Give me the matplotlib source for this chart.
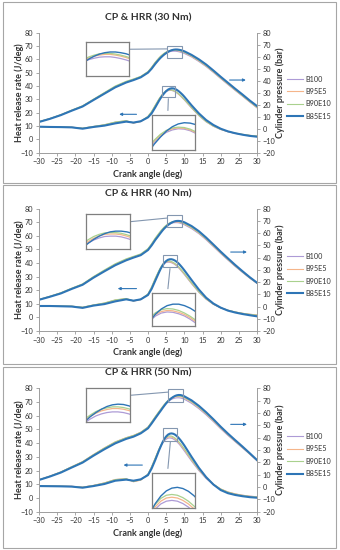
import matplotlib
matplotlib.use("Agg")
import matplotlib.pyplot as plt
from matplotlib.patches import Rectangle, ConnectionPatch

# Crank angle grid (deg)
crank = [-30, -27, -24, -21, -18, -15, -12, -9, -6, -4, -2, 0, 1, 2, 3, 3.5, 4, 4.5, 5, 5.5,
         6, 6.5, 7, 7.5, 8, 8.5, 9, 9.5, 10, 12, 14, 16, 18, 20, 22, 24, 26, 28, 30]

fuels = ["B100", "B95E5", "B90E10", "B85E15"]

# ---- 30 Nm ----
cp30_b100 = [5.8, 8.4, 11.5, 15.2, 18.8, 24.2, 29.6, 35.0, 39.0, 41.0, 43.2, 47.2, 50.8, 55.0, 58.5, 60.0, 61.2, 62.3, 63.2, 63.8,
             64.2, 64.5, 64.6, 64.6, 64.4, 64.1, 63.7, 63.2, 62.7, 59.8, 56.0, 51.8, 46.9, 41.8, 36.8, 31.9, 27.1, 22.2, 17.4]
cp30_b95e5 = [5.8, 8.4, 11.6, 15.3, 18.9, 24.3, 29.8, 35.2, 39.2, 41.2, 43.4, 47.4, 51.0, 55.2, 58.7, 60.3, 61.6, 62.7, 63.6, 64.3,
              64.8, 65.1, 65.3, 65.3, 65.1, 64.8, 64.4, 63.9, 63.4, 60.3, 56.5, 52.2, 47.3, 42.1, 37.1, 32.1, 27.3, 22.4, 17.6]
cp30_b90e10 = [5.9, 8.5, 11.7, 15.5, 19.1, 24.6, 30.1, 35.6, 39.5, 41.4, 43.6, 47.6, 51.2, 55.4, 58.9, 60.5, 61.8, 63.0, 63.9, 64.6,
               65.1, 65.5, 65.6, 65.6, 65.4, 65.1, 64.7, 64.2, 63.7, 60.7, 56.9, 52.6, 47.7, 42.5, 37.5, 32.5, 27.6, 22.7, 17.9]
cp30_b85e15 = [5.6, 8.2, 11.3, 15.0, 18.5, 23.9, 29.2, 34.5, 38.5, 40.5, 42.8, 46.7, 50.0, 54.0, 57.6, 59.2, 60.6, 61.9, 63.0, 64.0,
               64.8, 65.4, 65.8, 66.0, 66.0, 65.8, 65.5, 65.0, 64.5, 61.5, 57.8, 53.5, 48.5, 43.3, 38.3, 33.3, 28.5, 23.5, 18.9]
hrr30_b100 = [9.6, 9.4, 9.3, 9.1, 8.3, 9.6, 10.8, 12.8, 13.8, 12.3, 13.4, 17.0, 20.5, 25.2, 29.8, 31.8, 33.5, 34.9, 35.9, 36.5,
              36.8, 36.7, 36.3, 35.6, 34.7, 33.6, 32.4, 31.0, 29.6, 23.5, 17.8, 13.2, 9.8, 7.4, 5.7, 4.5, 3.6, 2.9, 2.4]
hrr30_b95e5 = [9.6, 9.4, 9.3, 9.1, 8.3, 9.6, 10.9, 12.9, 13.9, 12.2, 13.3, 17.1, 20.7, 25.4, 30.0, 32.0, 33.8, 35.2, 36.2, 36.8,
               37.0, 36.9, 36.5, 35.8, 34.9, 33.8, 32.6, 31.2, 29.8, 23.7, 18.0, 13.3, 9.9, 7.5, 5.8, 4.6, 3.7, 3.0, 2.5]
hrr30_b90e10 = [9.6, 9.4, 9.3, 9.1, 8.4, 9.7, 11.0, 13.0, 14.0, 12.4, 13.5, 17.3, 20.9, 25.6, 30.2, 32.2, 34.0, 35.4, 36.4, 37.0,
                37.2, 37.1, 36.7, 36.0, 35.1, 34.0, 32.8, 31.4, 30.0, 23.9, 18.1, 13.4, 10.0, 7.6, 5.9, 4.7, 3.8, 3.0, 2.5]
hrr30_b85e15 = [9.5, 9.3, 9.2, 9.0, 8.0, 9.3, 10.3, 12.0, 13.3, 12.6, 13.6, 16.5, 19.5, 24.0, 28.8, 31.0, 33.0, 34.7, 36.2, 37.3,
                38.0, 38.3, 38.2, 37.8, 37.0, 36.0, 34.8, 33.5, 32.0, 25.5, 19.5, 14.5, 10.8, 8.0, 6.0, 4.6, 3.5, 2.6, 2.0]

# ---- 40 Nm ----
cp40_b100 = [5.7, 8.2, 11.0, 14.7, 18.1, 24.0, 29.3, 34.4, 38.4, 40.5, 42.5, 46.8, 50.8, 55.3, 59.2, 61.1, 62.8, 64.3, 65.6, 66.7,
             67.5, 68.1, 68.5, 68.6, 68.6, 68.4, 68.0, 67.5, 66.9, 63.7, 59.6, 54.6, 49.0, 43.4, 38.0, 32.8, 27.9, 23.2, 18.9]
cp40_b95e5 = [5.7, 8.3, 11.1, 14.8, 18.3, 24.2, 29.5, 34.6, 38.6, 40.7, 42.7, 47.0, 51.0, 55.5, 59.5, 61.4, 63.1, 64.7, 66.0, 67.1,
              68.0, 68.7, 69.1, 69.2, 69.2, 69.0, 68.6, 68.1, 67.5, 64.3, 60.1, 55.1, 49.5, 43.8, 38.4, 33.1, 28.2, 23.4, 19.1]
cp40_b90e10 = [5.8, 8.4, 11.3, 15.0, 18.5, 24.5, 29.9, 35.0, 39.0, 41.0, 43.0, 47.4, 51.4, 56.0, 60.0, 61.9, 63.6, 65.2, 66.5, 67.6,
               68.5, 69.1, 69.5, 69.6, 69.6, 69.4, 69.0, 68.5, 67.9, 64.7, 60.5, 55.5, 49.9, 44.2, 38.7, 33.4, 28.4, 23.6, 19.2]
cp40_b85e15 = [5.5, 8.0, 10.7, 14.4, 17.8, 23.6, 28.8, 33.8, 37.8, 40.0, 42.0, 46.2, 50.0, 54.4, 58.3, 60.3, 62.2, 63.9, 65.3, 66.6,
               67.7, 68.6, 69.3, 69.8, 70.0, 70.0, 69.8, 69.4, 68.9, 65.8, 61.6, 56.4, 50.7, 44.9, 39.4, 34.0, 28.9, 24.0, 19.5]
hrr40_b100 = [8.5, 8.5, 8.3, 8.2, 7.4, 9.0, 10.4, 12.6, 13.7, 12.1, 13.2, 17.0, 22.0, 28.2, 33.8, 36.2, 38.2, 39.6, 40.4, 40.7,
              40.6, 40.2, 39.6, 38.7, 37.6, 36.3, 34.8, 33.2, 31.6, 24.8, 18.5, 13.4, 9.6, 7.0, 5.2, 3.9, 3.0, 2.3, 1.8]
hrr40_b95e5 = [8.5, 8.5, 8.3, 8.2, 7.4, 9.1, 10.5, 12.8, 13.8, 12.0, 13.1, 17.1, 22.2, 28.4, 34.0, 36.5, 38.5, 40.0, 40.8, 41.1,
               41.0, 40.6, 40.0, 39.1, 38.0, 36.7, 35.2, 33.6, 32.0, 25.1, 18.7, 13.5, 9.7, 7.1, 5.3, 4.0, 3.0, 2.3, 1.8]
hrr40_b90e10 = [8.5, 8.5, 8.4, 8.3, 7.5, 9.2, 10.6, 12.9, 13.9, 12.2, 13.3, 17.3, 22.5, 28.8, 34.5, 37.0, 39.0, 40.5, 41.3, 41.6,
                41.5, 41.1, 40.4, 39.5, 38.4, 37.1, 35.6, 34.0, 32.4, 25.4, 18.9, 13.7, 9.8, 7.1, 5.3, 4.0, 3.0, 2.2, 1.6]
hrr40_b85e15 = [8.4, 8.4, 8.2, 8.0, 7.0, 8.7, 9.8, 11.8, 13.3, 12.3, 13.3, 16.5, 21.0, 27.0, 33.0, 35.8, 38.2, 40.1, 41.5, 42.4,
                42.8, 42.8, 42.4, 41.7, 40.7, 39.5, 38.0, 36.4, 34.7, 27.5, 20.5, 14.5, 10.2, 7.2, 5.0, 3.6, 2.5, 1.6, 0.8]

# ---- 50 Nm ----
cp50_b100 = [5.9, 8.8, 12.1, 16.3, 20.4, 26.1, 31.4, 36.3, 39.8, 41.6, 44.2, 48.4, 52.4, 56.6, 60.6, 62.5, 64.4, 66.2, 67.8, 69.1,
             70.2, 71.1, 71.7, 72.1, 72.3, 72.3, 72.1, 71.7, 71.1, 67.8, 63.5, 58.5, 53.0, 47.2, 41.8, 36.7, 31.7, 26.6, 21.3]
cp50_b95e5 = [5.9, 8.8, 12.2, 16.4, 20.6, 26.3, 31.7, 36.6, 40.0, 41.8, 44.4, 48.6, 52.6, 56.9, 61.0, 62.9, 64.9, 66.7, 68.4, 69.8,
              71.0, 71.9, 72.6, 73.0, 73.3, 73.3, 73.1, 72.7, 72.1, 68.7, 64.3, 59.2, 53.6, 47.8, 42.3, 37.1, 32.0, 26.8, 21.4]
cp50_b90e10 = [5.9, 8.8, 12.2, 16.4, 20.5, 26.2, 31.6, 36.5, 39.9, 41.7, 44.3, 48.6, 52.7, 57.0, 61.1, 63.1, 65.1, 67.0, 68.7, 70.2,
               71.4, 72.4, 73.1, 73.5, 73.8, 73.8, 73.6, 73.2, 72.6, 69.2, 64.8, 59.7, 54.1, 48.2, 42.7, 37.4, 32.3, 27.0, 21.6]
cp50_b85e15 = [5.7, 8.5, 11.7, 15.8, 19.8, 25.4, 30.6, 35.4, 39.0, 40.8, 43.5, 47.6, 51.5, 55.7, 59.8, 61.8, 63.9, 65.9, 67.8, 69.4,
               70.9, 72.1, 73.1, 73.9, 74.4, 74.6, 74.5, 74.1, 73.5, 70.2, 65.8, 60.6, 54.9, 48.9, 43.3, 38.0, 32.8, 27.4, 21.9]
hrr50_b100 = [8.8, 8.7, 8.6, 8.5, 7.9, 9.1, 10.9, 13.4, 13.9, 12.0, 13.2, 17.3, 22.6, 28.8, 35.0, 37.6, 39.8, 41.6, 42.9, 43.6,
              43.8, 43.6, 43.0, 42.1, 40.9, 39.5, 37.9, 36.1, 34.3, 26.9, 20.0, 14.2, 9.7, 6.4, 4.3, 2.9, 2.0, 1.3, 0.9]
hrr50_b95e5 = [8.8, 8.7, 8.6, 8.5, 7.9, 9.2, 11.0, 13.5, 14.0, 11.8, 13.0, 17.3, 22.7, 29.0, 35.3, 38.0, 40.3, 42.2, 43.6, 44.4,
               44.6, 44.4, 43.8, 42.9, 41.7, 40.3, 38.7, 36.9, 35.1, 27.6, 20.5, 14.6, 10.0, 6.6, 4.4, 3.0, 2.0, 1.3, 0.8]
hrr50_b90e10 = [8.8, 8.7, 8.6, 8.4, 7.8, 9.1, 10.9, 13.4, 14.0, 12.1, 13.3, 17.4, 22.8, 29.2, 35.6, 38.4, 40.8, 42.8, 44.3, 45.1,
                45.3, 45.1, 44.5, 43.6, 42.4, 41.0, 39.4, 37.6, 35.8, 28.2, 21.0, 14.9, 10.1, 6.5, 4.2, 2.8, 1.8, 1.1, 0.6]
hrr50_b85e15 = [8.7, 8.6, 8.5, 8.3, 7.5, 8.7, 10.2, 12.6, 13.4, 12.6, 13.6, 16.7, 21.5, 27.7, 34.5, 37.6, 40.6, 43.0, 44.9, 46.2,
                46.9, 47.1, 46.8, 46.1, 45.0, 43.6, 42.0, 40.2, 38.3, 30.0, 22.0, 15.2, 9.8, 5.8, 3.5, 2.2, 1.3, 0.6, 0.2]

loads = ["30 Nm", "40 Nm", "50 Nm"]

colors = ["#ad9bd6", "#f5b58a", "#a9d18e", "#2e75b6"]
widths = [0.8, 0.8, 0.8, 1.5]

plt.rcParams["font.family"] = ["Lato", "DejaVu Sans"]
txt = "#333333"

W, H = 340, 550
fig = plt.figure(figsize=(W / 100, H / 100), dpi=100)


def fbox(x0, y0, x1, y1):
    # pixel box (top-left origin) -> figure fraction [l, b, w, h]
    return [x0 / W, 1 - y1 / H, (x1 - x0) / W, (y1 - y0) / H]


panels = [
    dict(cp=[cp30_b100, cp30_b95e5, cp30_b90e10, cp30_b85e15],
         hrr=[hrr30_b100, hrr30_b95e5, hrr30_b90e10, hrr30_b85e15],
         frame=(3, 2, 336, 183), plot=(39, 32.7, 257, 152.7),
         ins_up=(86, 41.7, 129, 76), ins_lo=(152, 114.7, 195, 150),
         r_up=(5.2, 9.3, 59.0, 69.0), r_lo=(3.8, 7.4, 31.5, 40.3),
         arr_l=(-2.4, -8.7, 18.8), arr_r=(21.7, 27.7, 44.5)),
    dict(cp=[cp40_b100, cp40_b95e5, cp40_b90e10, cp40_b85e15],
         hrr=[hrr40_b100, hrr40_b95e5, hrr40_b90e10, hrr40_b85e15],
         frame=(3, 185, 336, 364), plot=(39, 208.7, 257, 331),
         ins_up=(86, 214, 130, 249), ins_lo=(152, 292.7, 195, 326),
         r_up=(5.3, 9.3, 65.0, 74.8), r_lo=(4.2, 7.9, 36.9, 45.9),
         arr_l=(-2.4, -9.1, 21.2), arr_r=(22.0, 28.0, 48.1)),
    dict(cp=[cp50_b100, cp50_b95e5, cp50_b90e10, cp50_b85e15],
         hrr=[hrr50_b100, hrr50_b95e5, hrr50_b90e10, hrr50_b85e15],
         frame=(3, 367, 336, 548), plot=(39, 388.3, 257, 511.7),
         ins_up=(86, 387.7, 130, 422.3), ins_lo=(152, 472.7, 195, 508.3),
         r_up=(5.6, 9.6, 69.2, 79.5), r_lo=(4.2, 8.1, 41.8, 50.8),
         arr_l=(-0.8, -7.5, 24.0), arr_r=(22.0, 28.0, 53.7)),
]

edge = "#8497b0"

for p, load in zip(panels, loads):
    fx0, fy0, fx1, fy1 = p["frame"]
    fig.patches.append(Rectangle((fx0 / W, 1 - fy1 / H), (fx1 - fx0) / W, (fy1 - fy0) / H,
                                 transform=fig.transFigure, fill=False, ec="#a6a6a6", lw=0.8))

    ax = fig.add_axes(fbox(*p["plot"]))
    ax2 = ax.twinx()
    ax.set_zorder(2)
    ax.patch.set_visible(False)

    for i in range(4):
        ax2.plot(crank, p["cp"][i], color=colors[i], lw=widths[i])
        ax.plot(crank, p["hrr"][i], color=colors[i], lw=widths[i], label=fuels[i])

    ax.set_xlim(-30, 30)
    ax.set_ylim(-10, 80)
    ax2.set_ylim(-20, 80)
    ax.set_xticks(range(-30, 31, 5))
    ax.set_yticks(range(-10, 81, 10))
    ax2.set_yticks(range(-20, 81, 10))
    for a in (ax, ax2):
        a.tick_params(labelsize=5.3, length=2, width=0.6, color="#999999", labelcolor=txt, pad=2)
        for s in a.spines.values():
            s.set_color("#a0a0a0")
            s.set_linewidth(0.7)
        a.spines["top"].set_visible(False)

    ax.set_title("CP & HRR (" + load + ")", fontsize=7.5, fontweight="bold", color=txt, pad=9)
    ax.set_xlabel("Crank angle (deg)", fontsize=6.5, fontweight="bold", color=txt, labelpad=3)
    ax.set_ylabel("Heat release rate (J/deg)", fontsize=6.5, fontweight="bold", color=txt)
    ax2.set_ylabel("Cylinder pressure (bar)", fontsize=6.5, fontweight="bold", color=txt)
    ax.yaxis.set_label_coords(-0.07, 0.5)
    ax2.yaxis.set_label_coords(1.085, 0.5)

    # arrows pointing to the axis of each curve group
    xa, xb, ya = p["arr_l"]
    ax.annotate("", xy=(xb, ya), xytext=(xa, ya),
                arrowprops=dict(arrowstyle="-|>", color="#2e75b6", lw=0.8, mutation_scale=4))
    xa, xb, ya = p["arr_r"]
    ax.annotate("", xy=(xb, ya), xytext=(xa, ya),
                arrowprops=dict(arrowstyle="-|>", color="#2e75b6", lw=0.8, mutation_scale=4))

    # zoom rectangles on the peaks
    x0, x1, y0, y1 = p["r_up"]
    ax2.add_patch(Rectangle((x0, y0), x1 - x0, y1 - y0, fill=False, ec=edge, lw=0.8, zorder=5))
    X0, X1, Y0, Y1 = p["r_lo"]
    ax.add_patch(Rectangle((X0, Y0), X1 - X0, Y1 - Y0, fill=False, ec=edge, lw=0.8, zorder=5))

    # insets
    iu = fig.add_axes(fbox(*p["ins_up"]))
    il = fig.add_axes(fbox(*p["ins_lo"]))
    for ia, key, lim in ((iu, "cp", p["r_up"]), (il, "hrr", p["r_lo"])):
        ia.set_zorder(5)
        for i in range(4):
            ia.plot(crank, p[key][i], color=colors[i], lw=0.9 if i < 3 else 1.0)
        ia.set_xlim(lim[0], lim[1])
        ia.set_ylim(lim[2], lim[3])
        ia.set_xticks([])
        ia.set_yticks([])
        for s in ia.spines.values():
            s.set_color("#7f7f7f")
            s.set_linewidth(0.9)

    # connectors
    cu = ConnectionPatch(xyA=(1.0, 0.78), coordsA=iu.transAxes,
                         xyB=(x0, y1 - 0.25 * (y1 - y0)), coordsB=ax2.transData,
                         color=edge, lw=0.8)
    fig.add_artist(cu)
    cx = (X0 + X1) / 2
    cl = ConnectionPatch(xyA=(cx, Y0 - 1.0), coordsA=ax.transData,
                         xyB=(0.37, 1.12), coordsB=il.transAxes,
                         color=edge, lw=0.8)
    fig.add_artist(cl)

    bb = p["plot"]
    ymid = (bb[1] + bb[3]) / 2 + 5
    ax.legend(loc="center left", bbox_to_anchor=(287 / W, 1 - ymid / H), bbox_transform=fig.transFigure,
              frameon=False, fontsize=5.2, handlelength=2.2, handletextpad=0.3, labelspacing=0.75,
              borderpad=0, borderaxespad=0, labelcolor=txt)

fig.savefig("out.png", dpi=100)
